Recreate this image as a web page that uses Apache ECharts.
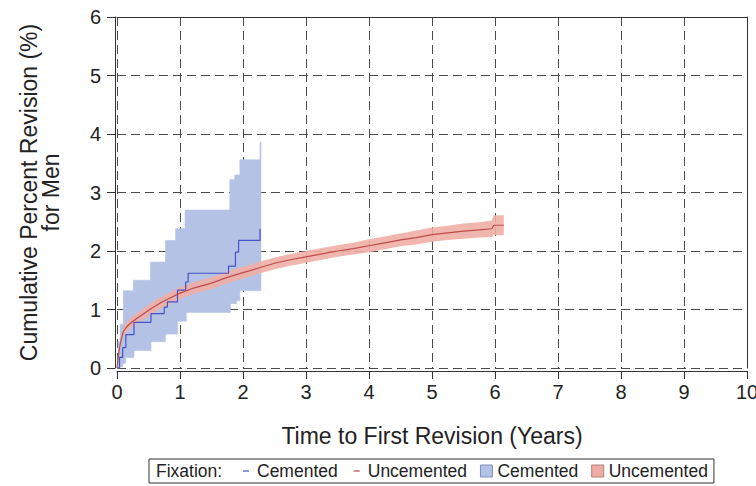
<!DOCTYPE html>
<html><head><meta charset="utf-8">
<script src="https://cdn.jsdelivr.net/npm/echarts@6/dist/echarts.min.js"></script>
<style>html,body{margin:0;padding:0;background:#fff}#c{width:756px;height:486px}</style>
</head><body><div id="c"></div>
<script>
// ---- Data ----
const xTickLabels = ['0','1','2','3','4','5','6','7','8','9','10'];
const yTickLabels = ['0','1','2','3','4','5','6'];

// Cemented: Kaplan-Meier step estimate
const cemTime = [0, 0.04, 0.09, 0.14, 0.27, 0.54, 0.75, 0.80, 0.96, 1.09, 1.13, 1.77, 1.88, 1.93, 2.27];
const cemEst  = [0, 0.18, 0.35, 0.57, 0.78, 0.93, 1.04, 1.13, 1.33, 1.47, 1.62, 1.74, 1.98, 2.18, 2.38];
// Cemented confidence band (step)
const cemHighTime = [0, 0.02, 0.05, 0.10, 0.26, 0.53, 0.77, 0.93, 1.08, 1.79, 1.87, 1.95, 2.27, 2.285];
const cemHigh     = [0, 0.45, 0.75, 1.32, 1.50, 1.81, 2.18, 2.38, 2.70, 3.22, 3.30, 3.56, 3.86, 3.86];
const cemLowTime  = [0, 0.04, 0.09, 0.14, 0.27, 0.54, 0.77, 0.96, 1.10, 1.80, 1.90, 1.95, 2.285];
const cemLow      = [0, 0.02, 0.08, 0.18, 0.30, 0.45, 0.58, 0.80, 0.95, 1.10, 1.15, 1.32, 1.32];

// Uncemented
const uncTime  = [0, 0.02, 0.04, 0.07, 0.10, 0.15, 0.25, 0.40, 0.55, 0.70, 0.85, 1.00, 1.20, 1.50, 1.75, 2.00, 2.25, 2.50, 2.75, 3.00, 3.25, 3.50, 3.75, 4.00, 4.25, 4.50, 4.75, 5.00, 5.25, 5.50, 5.75, 5.95, 5.98, 6.14];
const uncEst   = [0, 0.20, 0.35, 0.50, 0.62, 0.70, 0.80, 0.91, 1.02, 1.12, 1.20, 1.28, 1.36, 1.45, 1.55, 1.63, 1.71, 1.79, 1.85, 1.90, 1.95, 2.00, 2.04, 2.09, 2.14, 2.19, 2.23, 2.28, 2.31, 2.34, 2.36, 2.38, 2.44, 2.44];
const uncLower = [0, 0.16, 0.29, 0.43, 0.54, 0.62, 0.71, 0.82, 0.92, 1.02, 1.10, 1.18, 1.26, 1.35, 1.45, 1.53, 1.61, 1.69, 1.75, 1.80, 1.85, 1.90, 1.94, 1.98, 2.03, 2.08, 2.11, 2.16, 2.19, 2.21, 2.23, 2.24, 2.27, 2.27];
const uncUpper = [0, 0.24, 0.41, 0.57, 0.70, 0.78, 0.89, 1.00, 1.12, 1.22, 1.30, 1.38, 1.46, 1.55, 1.65, 1.73, 1.81, 1.89, 1.95, 2.00, 2.05, 2.10, 2.14, 2.20, 2.25, 2.30, 2.35, 2.40, 2.43, 2.47, 2.49, 2.52, 2.61, 2.61];

// ---- Styling ----
const FONT = '"Liberation Sans", Arial, sans-serif';
const C_CEM_LINE = '#4454c8';
const C_CEM_BAND = '#b4c2e6';
const C_UNC_LINE = '#bd4b4b';
const C_UNC_BAND = '#efaea5';

function stepPath(ts, vs) {
  const pts = [];
  for (let i = 0; i < ts.length; i++) {
    pts.push([ts[i], vs[i]]);
    if (i < ts.length - 1) pts.push([ts[i + 1], vs[i]]);
  }
  return pts;
}

const chart = echarts.init(document.getElementById('c'), null, {renderer: 'svg'});
const option = {
  animation: false,
  backgroundColor: '#fff',
  grid: {left: 117, right: 9, top: 17, bottom: 118, containLabel: false, outerBoundsMode: 'none'},
  xAxis: [{
    type: 'value', min: 0, max: 10, interval: 1, position: 'bottom', offset: 3,
    axisLine: {show: true, onZero: false, lineStyle: {color: '#333', width: 1}},
    axisTick: {show: true, length: 8, lineStyle: {color: '#333'}},
    axisLabel: {fontSize: 20, margin: 11, color: '#222', fontFamily: FONT,
      formatter: (v) => xTickLabels[Math.round(v)]},
    splitLine: {show: true, lineStyle: {type: [9, 5], color: '#4a4a4a', width: 1}},
    name: 'Time to First Revision (Years)', nameLocation: 'middle', nameGap: 53,
    nameTextStyle: {fontSize: 23, color: '#222', fontFamily: FONT}
  }, {
    type: 'value', min: 0, max: 10, position: 'top',
    axisLine: {show: true, onZero: false, lineStyle: {color: '#333', width: 1}},
    axisTick: {show: false}, axisLabel: {show: false}, splitLine: {show: false}
  }],
  yAxis: [{
    type: 'value', min: 0, max: 6, interval: 1, position: 'left', offset: 2,
    axisLine: {show: true, onZero: false, lineStyle: {color: '#333', width: 1}},
    axisTick: {show: true, length: 8, lineStyle: {color: '#333'}},
    axisLabel: {fontSize: 20, margin: 14, color: '#222', fontFamily: FONT,
      formatter: (v) => yTickLabels[Math.round(v)]},
    splitLine: {show: true, lineStyle: {type: [9, 5], color: '#4a4a4a', width: 1}},
    name: 'Cumulative Percent Revision (%)\nfor Men', nameLocation: 'middle', nameGap: 53,
    nameRotate: 90,
    nameTextStyle: {fontSize: 23, color: '#222', fontFamily: FONT, align: 'center', lineHeight: 22}
  }, {
    type: 'value', min: 0, max: 6, position: 'right',
    axisLine: {show: true, onZero: false, lineStyle: {color: '#333', width: 1}},
    axisTick: {show: false}, axisLabel: {show: false}, splitLine: {show: false}
  }],
  legend: {
    left: 149, top: 459, orient: 'horizontal',
    padding: [3, 6, 3, 91], itemGap: 13, itemWidth: 12, itemHeight: 12,
    borderColor: '#333', borderWidth: 1, selectedMode: false,
    textStyle: {fontSize: 17.5, color: '#222', fontFamily: FONT},
    formatter: (n) => n.replace(' band', ''),
    data: [
      {name: 'Cemented', icon: 'path://M0,0M12,12M3,5.4h6v1.2h-6z', itemStyle: {color: C_CEM_LINE}},
      {name: 'Uncemented', icon: 'path://M0,0M12,12M3,5.4h6v1.2h-6z', itemStyle: {color: C_UNC_LINE}},
      {name: 'Cemented band', icon: 'rect', itemStyle: {color: C_CEM_BAND, borderColor: '#7f8fbf', borderWidth: 1}},
      {name: 'Uncemented band', icon: 'rect', itemStyle: {color: C_UNC_BAND, borderColor: '#b97f78', borderWidth: 1}}
    ]
  },
  graphic: [{
    type: 'text', left: 156, top: 462,
    style: {text: 'Fixation:', fontSize: 17.5, fill: '#222', fontFamily: FONT}
  }],
  series: [
    {
      name: 'Cemented band', type: 'custom', silent: true,
      itemStyle: {color: C_CEM_BAND},
      data: cemHighTime.map((t, i) => [t, cemHigh[i]]),
      encode: {x: 0, y: 1},
      renderItem: function (params, api) {
        if (params.dataIndex !== 0) return null;
        const up = stepPath(cemHighTime, cemHigh);
        const lo = stepPath(cemLowTime, cemLow).reverse();
        const pts = up.concat(lo).map(p => api.coord(p));
        return {type: 'polygon', shape: {points: pts}, style: {fill: C_CEM_BAND, stroke: C_CEM_BAND, lineWidth: 0.6}};
      }
    },
    {
      name: 'Uncemented band', type: 'custom', silent: true,
      itemStyle: {color: C_UNC_BAND},
      data: uncTime.map((t, i) => [t, uncUpper[i]]),
      encode: {x: 0, y: 1},
      renderItem: function (params, api) {
        if (params.dataIndex !== 0) return null;
        const up = uncTime.map((t, i) => [t, uncUpper[i]]);
        const lo = uncTime.map((t, i) => [t, uncLower[i]]).reverse();
        const pts = up.concat(lo).map(p => api.coord(p));
        return {type: 'polygon', shape: {points: pts}, style: {fill: C_UNC_BAND, opacity: 0.9}};
      }
    },
    {
      name: 'Cemented', type: 'line', step: 'end', symbol: 'none', silent: true,
      data: cemTime.map((t, i) => [t, cemEst[i]]),
      lineStyle: {color: C_CEM_LINE, width: 1.2}, itemStyle: {color: C_CEM_LINE}
    },
    {
      name: 'Uncemented', type: 'line', symbol: 'none', silent: true,
      data: uncTime.map((t, i) => [t, uncEst[i]]),
      lineStyle: {color: C_UNC_LINE, width: 1.2}, itemStyle: {color: C_UNC_LINE}
    }
  ]
};
chart.setOption(option);
</script>
</body></html>
